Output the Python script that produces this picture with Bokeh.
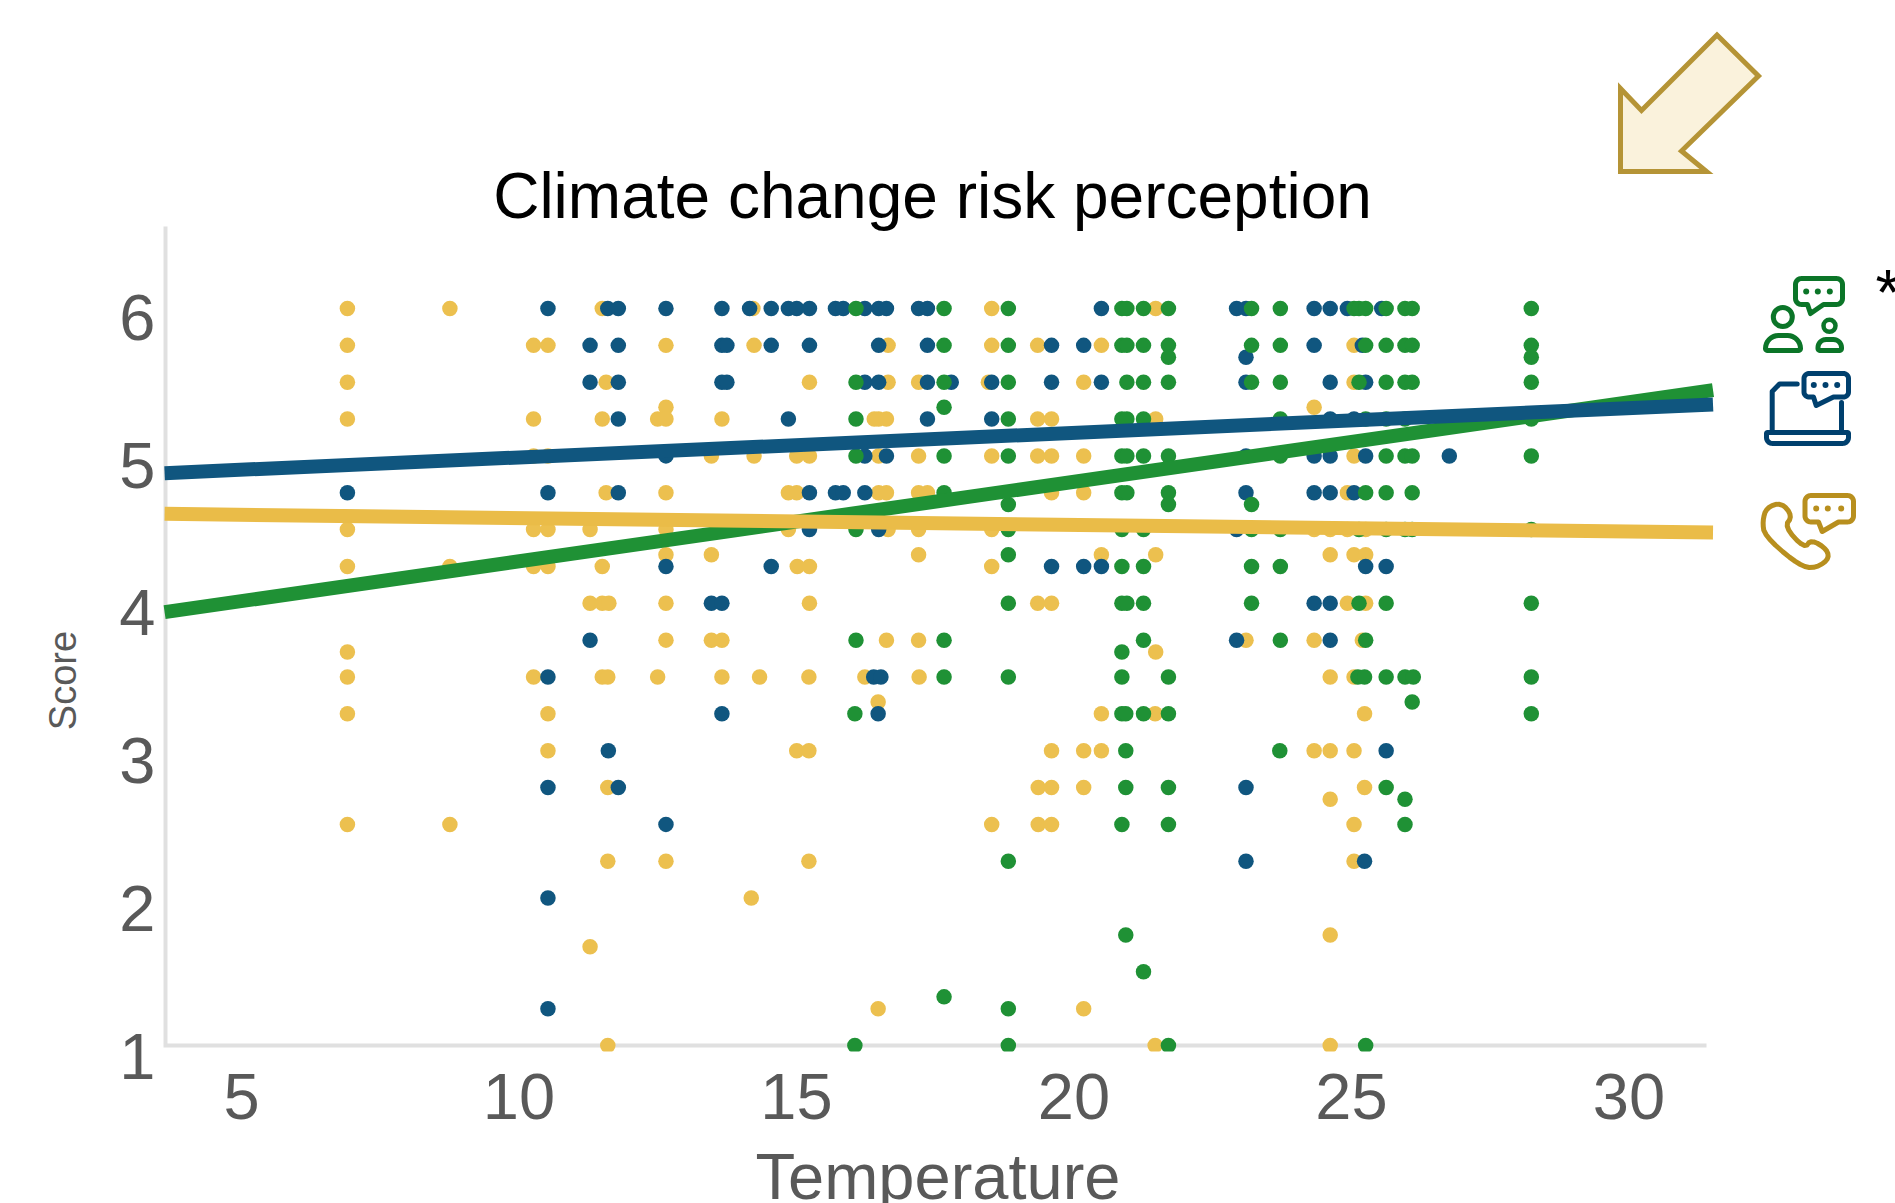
import math
from bokeh.plotting import figure
from bokeh.embed import file_html
from bokeh.resources import INLINE
from bokeh.models import Range1d, LinearAxis, FixedTicker, Label

title_text = "Climate change risk perception"
x_label = "Temperature"
y_label = "Score"
x_ticks = [5, 10, 15, 20, 25, 30]
y_ticks = [1, 2, 3, 4, 5, 6]

score_levels = [6, 5.75, 5.67, 5.5, 5.33, 5.25, 5, 4.75, 4.67, 4.5, 4.33, 4.25, 4, 3.75, 3.67,
                3.5, 3.33, 3.25, 3, 2.75, 2.67, 2.5, 2.25, 2, 1.75, 1.67, 1.5, 1.33, 1.25, 1]

phone_temp = [
    [6.93, 8.78, 11.53, 14.25, 18.56, 21.52],
    [6.93, 10.29, 10.55, 12.68, 14.27, 16.69, 18.56, 19.39, 20.54, 25.10],
    [],
    [6.93, 11.60, 15.27, 16.69, 17.24, 18.50, 20.22, 25.10],
    [12.68, 24.38],
    [6.93, 10.29, 11.53, 12.53, 12.68, 13.69, 16.44, 16.52, 16.66, 19.39, 19.64, 21.52],
    [10.29, 10.55, 13.50, 14.27, 15.04, 15.27, 16.52, 17.24, 18.56, 19.39, 19.64, 20.22, 25.10],
    [11.60, 12.68, 14.89, 15.04, 16.52, 16.66, 17.24, 17.40, 19.64, 20.22, 24.98],
    [],
    [6.93, 10.29, 10.55, 11.31, 12.68, 14.89, 16.69, 17.24, 18.56, 24.38, 24.67, 24.98, 25.31],
    [12.68, 13.50, 17.24, 20.54, 21.52, 24.67, 25.10, 25.31],
    [6.93, 8.78, 10.29, 10.55, 11.53, 15.05, 15.27, 18.56],
    [11.31, 11.53, 11.65, 12.68, 15.27, 19.39, 19.64, 24.98, 25.31],
    [12.68, 13.50, 13.69, 16.66, 17.24, 23.15, 24.38, 25.25],
    [6.93, 21.52],
    [6.93, 10.29, 11.53, 11.63, 12.53, 13.69, 14.37, 15.26, 16.27, 17.25, 24.67, 25.10],
    [16.51],
    [6.93, 10.55, 20.54, 21.51, 25.29],
    [10.55, 15.04, 15.26, 19.64, 20.22, 20.54, 24.38, 24.67, 25.10],
    [11.63, 19.40, 19.64, 20.22, 25.29],
    [24.67],
    [6.93, 8.78, 18.56, 19.40, 19.64, 25.10],
    [11.63, 12.68, 15.26, 25.10],
    [14.22],
    [24.67],
    [11.31],
    [],
    [],
    [16.51, 20.22],
    [11.63, 21.51, 24.67],
]

online_temp = [
    [10.55, 11.63, 11.82, 12.68, 13.69, 14.19, 14.58, 14.89, 15.04, 15.27, 15.74, 15.88, 16.27,
     16.52, 16.66, 17.24, 17.40, 20.54, 22.98, 23.15, 24.38, 24.67, 24.98, 25.60],
    [11.31, 11.82, 13.69, 13.78, 14.58, 15.27, 16.52, 17.40, 19.64, 20.22, 24.38, 25.25],
    [23.15],
    [11.31, 11.82, 13.69, 13.78, 16.27, 16.52, 17.40, 17.83, 18.56, 19.64, 20.54, 23.15, 24.67, 25.31],
    [],
    [11.82, 14.89, 17.40, 18.56, 24.67, 25.10],
    [12.68, 16.27, 16.66, 23.15, 24.38, 24.67, 25.31, 26.82],
    [6.93, 10.55, 11.82, 15.27, 15.74, 15.88, 16.27, 23.15, 24.38, 24.67, 25.10],
    [],
    [15.27, 16.52, 22.98],
    [],
    [12.68, 14.58, 19.64, 20.22, 20.54, 25.31, 25.68],
    [13.50, 13.69, 24.38, 24.67],
    [11.31, 22.98, 24.67],
    [],
    [10.55, 16.43, 16.56],
    [],
    [13.69, 16.51],
    [11.64, 25.68],
    [10.55, 11.82, 23.15],
    [],
    [12.68],
    [23.15, 25.29],
    [10.55],
    [],
    [],
    [],
    [],
    [10.55],
    [],
]

inperson_temp = [
    [16.11, 17.70, 18.86, 20.91, 21.00, 21.30, 21.75, 23.25, 23.77, 25.10, 25.19, 25.31, 25.68, 26.02, 26.15, 28.30],
    [17.70, 18.86, 20.91, 21.00, 21.30, 21.75, 23.25, 23.77, 25.31, 25.68, 26.02, 26.15, 28.30],
    [21.75, 28.30],
    [16.11, 17.70, 18.86, 21.00, 21.30, 21.75, 23.25, 23.77, 25.19, 25.68, 26.02, 26.15, 28.30],
    [17.70],
    [16.11, 18.86, 20.91, 21.00, 21.30, 23.77, 25.31, 25.68, 26.02, 28.30],
    [16.11, 17.70, 18.86, 20.91, 21.00, 21.30, 21.75, 23.77, 25.68, 26.02, 26.15, 28.30],
    [17.70, 20.91, 21.00, 21.75, 25.31, 25.68, 26.15],
    [18.86, 21.75, 23.25],
    [16.11, 18.86, 20.91, 21.30, 23.25, 23.77, 25.19, 25.68, 26.02, 26.15, 28.30],
    [18.86],
    [20.91, 21.30, 23.25, 23.77],
    [18.86, 20.91, 21.00, 21.30, 23.25, 25.19, 25.68, 28.30],
    [16.11, 17.70, 21.30, 23.77, 25.31],
    [20.91],
    [17.70, 18.86, 20.91, 21.75, 25.17, 25.29, 25.68, 26.02, 26.17, 28.30],
    [26.15],
    [16.09, 20.91, 20.98, 21.30, 21.75, 28.30],
    [20.98, 23.76],
    [20.98, 21.75, 25.68],
    [26.02],
    [20.91, 21.75, 26.02],
    [18.86],
    [],
    [20.98],
    [],
    [21.30],
    [17.70],
    [18.86],
    [16.09, 18.86, 21.75, 25.31],
]

fit_x = [3.63, 31.58]
fit_inperson = [3.94, 5.446]
fit_online = [4.883, 5.349]
fit_phone = [4.607, 4.480]

YELLOW_DOT, BLUE_DOT, GREEN_DOT = "#ECC04F", "#10567F", "#1F9135"
YELLOW_LINE, BLUE_LINE, GREEN_LINE = "#EABC48", "#10567F", "#1F9135"
ICON_GREEN, ICON_BLUE, ICON_GOLD = "#0B7528", "#00406E", "#B88F1E"
FONT = "Liberation Sans"
GREY = "#595959"


def flat(rows):
    xs, ys = [], []
    for s, r in zip(score_levels, rows):
        for t in r:
            xs.append(t)
            ys.append(s)
    return xs, ys


def arc(cx, cy, r, a0, a1, n=8):
    return [(cx + r * math.cos(math.radians(a0 + (a1 - a0) * i / n)),
             cy + r * math.sin(math.radians(a0 + (a1 - a0) * i / n))) for i in range(n + 1)]


def rounded(x0, y0, x1, y1, rt, rb):
    pts = []
    pts += arc(x0 + rt, y0 + rt, rt, 180, 270)
    pts += arc(x1 - rt, y0 + rt, rt, 270, 360)
    pts += arc(x1 - rb, y1 - rb, rb, 0, 90)
    pts += arc(x0 + rb, y1 - rb, rb, 90, 180)
    pts.append(pts[0])
    return [p[0] for p in pts], [p[1] for p in pts]


def bubble(x0, y0, x1, y1, r, t0, t1, tipx, tipy):
    pts = []
    pts += arc(x0 + r, y0 + r, r, 180, 270)
    pts += arc(x1 - r, y0 + r, r, 270, 360)
    pts += arc(x1 - r, y1 - r, r, 0, 90)
    pts += [(t1, y1), (tipx, tipy), (t0, y1)]
    pts += arc(x0 + r, y1 - r, r, 90, 180)
    pts.append(pts[0])
    return [p[0] for p in pts], [p[1] for p in pts]


def smooth_closed(xs, ys, rounds=2):
    pts = list(zip(xs, ys))
    for _ in range(rounds):
        out = []
        for i, a in enumerate(pts):
            b = pts[(i + 1) % len(pts)]
            out.append((0.75 * a[0] + 0.25 * b[0], 0.75 * a[1] + 0.25 * b[1]))
            out.append((0.25 * a[0] + 0.75 * b[0], 0.25 * a[1] + 0.75 * b[1]))
        pts = out
    pts.append(pts[0])
    return [q[0] for q in pts], [q[1] for q in pts]


# frame covers the whole canvas; axes sit inside it at a fixed location
p = figure(width=1895, height=1203, output_backend="svg", toolbar_location=None,
           x_axis_location=None, y_axis_location=None,
           x_range=Range1d(0.668, 34.874), y_range=Range1d(-0.0719, 8.0896),
           min_border_left=0, min_border_right=0, min_border_top=0, min_border_bottom=0,
           outline_line_color=None, background_fill_color="white", border_fill_color="white")
p.xgrid.visible = False
p.ygrid.visible = False
p.extra_x_ranges = {"lab_x": Range1d(0.6577, 34.802), "px": Range1d(0, 1895)}
p.extra_y_ranges = {"lab_y": Range1d(0.0014, 8.146), "py": Range1d(1203, 0)}


def style(ax):
    ax.axis_line_color = None
    ax.major_tick_line_color = None
    ax.minor_tick_line_color = None
    ax.major_label_text_font = FONT
    ax.major_label_text_font_size = "65px"
    ax.major_label_text_color = GREY


xax = LinearAxis(x_range_name="lab_x", ticker=FixedTicker(ticks=x_ticks), fixed_location=0.8982)
style(xax)
xax.major_label_standoff = 7
p.add_layout(xax, "below")
yax = LinearAxis(y_range_name="lab_y", ticker=FixedTicker(ticks=y_ticks), fixed_location=3.682)
style(yax)
yax.major_label_standoff = 6
p.add_layout(yax, "left")

PX = dict(x_range_name="px", y_range_name="py")
# axis lines
p.line([165, 165, 1706], [226, 1045, 1045], line_color="#E0E0E0", line_width=4, line_join="miter", **PX)

for rows, col in ((phone_temp, YELLOW_DOT), (online_temp, BLUE_DOT), (inperson_temp, GREEN_DOT)):
    xs, ys = flat(rows)
    p.scatter(xs, ys, size=15.5, fill_color=col, line_color=None)

# dots on the floor are cut just below the axis line
p.quad(left=[160], right=[1890], top=[1051], bottom=[1060], fill_color="white", line_color=None, **PX)

p.line(fit_x, fit_inperson, line_color=GREEN_LINE, line_width=14, line_cap="butt")
p.line(fit_x, fit_online, line_color=BLUE_LINE, line_width=14, line_cap="butt")
p.line(fit_x, fit_phone, line_color=YELLOW_LINE, line_width=14, line_cap="butt")

# arrow
p.patch([1716.5, 1758, 1681, 1706, 1620, 1620, 1641], [34.5, 75.5, 150.5, 171, 171, 88, 110],
        fill_color="#FAF2DC", line_color="#B59436", line_width=5, line_join="miter", **PX)

W = 5


def stroke(pts, col):
    p.line(pts[0], pts[1], line_color=col, line_width=W, line_join="round", line_cap="round", **PX)


def dots(xs, y, col, size=6):
    p.scatter(xs, [y] * len(xs), size=size, fill_color=col, line_color=None, **PX)


# in-person icon
stroke(bubble(1795, 278, 1842, 304, 6, 1807, 1823, 1810, 313), ICON_GREEN)
dots([1805.7, 1817.3, 1829.3], 291, ICON_GREEN)
p.scatter([1782.3], [316.5], size=19, fill_color=None, line_color=ICON_GREEN, line_width=W, **PX)
stroke(rounded(1765, 335, 1800, 350, 13, 2), ICON_GREEN)
p.scatter([1829], [325.3], size=12, fill_color=None, line_color=ICON_GREEN, line_width=4.5, **PX)
stroke(rounded(1817.5, 339, 1841, 350, 8, 2), ICON_GREEN)

# online icon
stroke(bubble(1803.5, 373, 1848, 396.5, 5, 1813, 1833, 1815.7, 405), ICON_BLUE)
dots([1813.3, 1825, 1836.7], 384.6, ICON_BLUE)
stroke(([1796.7, 1779, 1771.7, 1771.7], [383.5, 383.5, 391, 430.5]), ICON_BLUE)
stroke(([1841, 1841], [402, 430.5]), ICON_BLUE)
stroke(rounded(1766, 432, 1848, 443, 1, 6), ICON_BLUE)

# phone icon
stroke(bubble(1804.5, 495, 1853, 521.5, 6, 1818, 1838, 1821.7, 531), ICON_GOLD)
dots([1815.7, 1827.3, 1840.7], 508, ICON_GOLD)
stroke(smooth_closed([1781, 1766, 1762, 1764, 1793.3, 1811, 1828, 1827, 1810.7, 1804, 1784, 1792],
                     [502, 507, 520.5, 535, 561, 569, 560, 549, 539, 548, 526.2, 515.5]), ICON_GOLD)


def label(text, x, y, size, col, **kw):
    p.add_layout(Label(x=x, y=y, text=text, text_font=FONT, text_font_size=size, text_color=col,
                       x_range_name="px", y_range_name="py", text_baseline="middle", **kw))


label(title_text, 932, 195, "64px", "black", text_align="center")
label(x_label, 937.5, 1175.6, "65px", GREY, text_align="center")
label(y_label, 62, 680, "38px", GREY, text_align="center", angle=math.pi / 2)
label("*", 1875, 292.6, "64px", "black", text_align="left")

open("out.html", "w").write(file_html(p, INLINE))
